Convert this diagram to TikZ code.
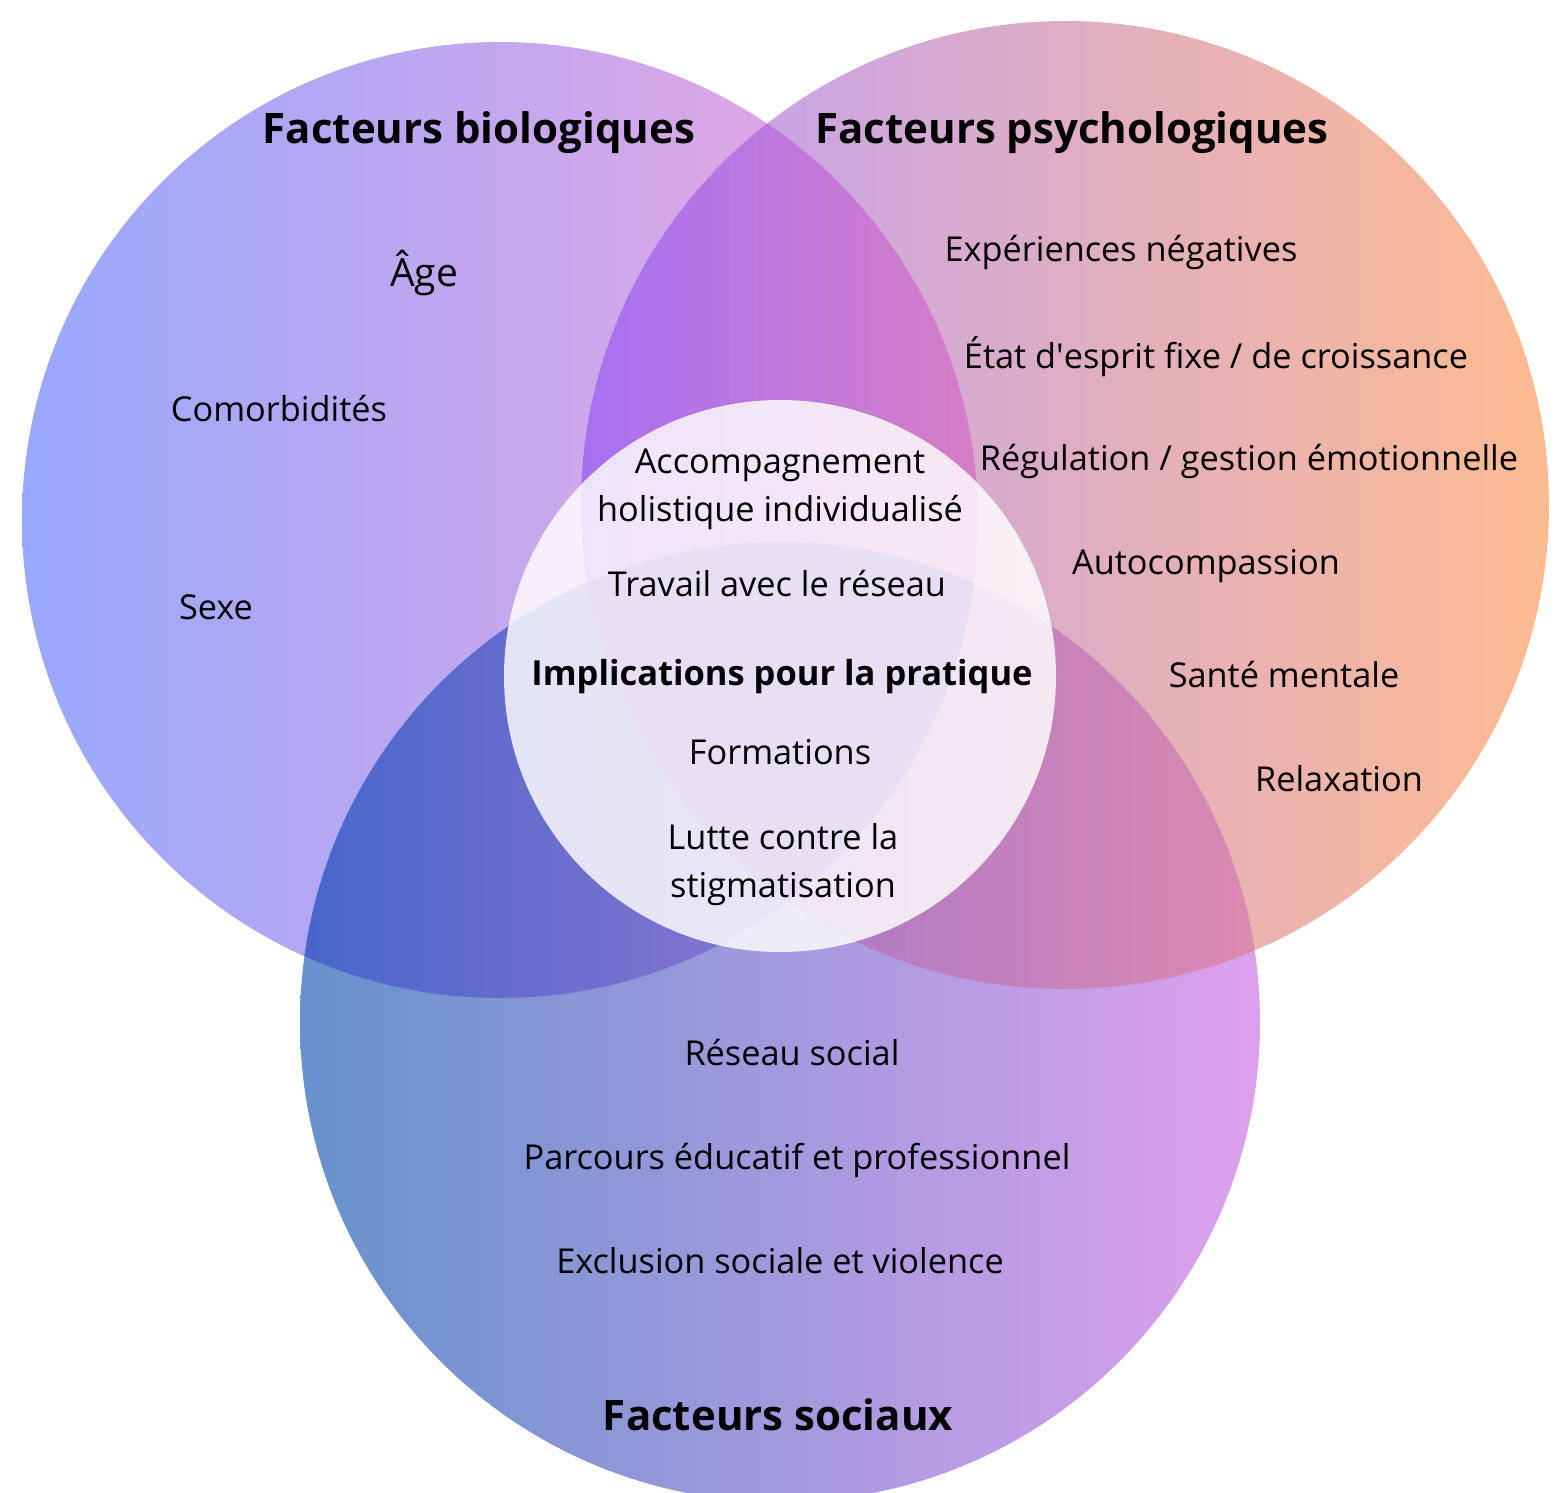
\documentclass[tikz,border=0pt]{standalone}
\usepackage{fontspec}
\setmainfont{Open Sans}
\usetikzlibrary{positioning}

\definecolor{bioL}{HTML}{98A8FC}
\definecolor{bioR}{HTML}{F0A6E0}
\definecolor{psyL}{HTML}{BD9FF7}
\definecolor{psyR}{HTML}{FEBB91}
\definecolor{socL}{HTML}{6692CC}
\definecolor{socR}{HTML}{DEA0EE}
\definecolor{bpL}{HTML}{A571F2}
\definecolor{bpR}{HTML}{D67DC6}
\definecolor{bsL}{HTML}{4866CC}
\definecolor{bsR}{HTML}{9A78D0}
\definecolor{psL}{HTML}{9470D4}
\definecolor{psR}{HTML}{DC8AAE}
\definecolor{bpsC}{HTML}{7A55C4}

\begin{document}
\begin{tikzpicture}
  [
    x=1pt, y=-1pt,
    heading/.style={font=\fontsize{42}{48}\selectfont\bfseries, inner sep=0pt},
    keynote/.style={font=\fontsize{34.5}{48}\selectfont\bfseries, inner sep=0pt},
    item/.style={font=\fontsize{34.3}{48}\selectfont, align=center, inner sep=0pt}
  ]
    \useasboundingbox (0,0) rectangle (1559,1493);
    % =========================================================================
    % CIRCLES
    % =========================================================================
    \coordinate (bio) at (500,520);
    \coordinate (psy) at (1065,505);
    \coordinate (soc) at (780,1022);
    \coordinate (core) at (780,676);

    \shade [left color=bioL, right color=bioR] (bio) circle [radius=478pt];
    \shade [left color=psyL, right color=psyR] (psy) circle [radius=484pt];
    \shade [left color=socL, right color=socR] (soc) circle [radius=480pt];
    % --- OVERLAPS ---
    \begin{scope}
      \clip (bio) circle [radius=478pt];
      \clip (psy) circle [radius=484pt];
      \shade [left color=bpL, right color=bpR] (580,0) rectangle (978,1493);
    \end{scope}
    \begin{scope}
      \clip (bio) circle [radius=478pt];
      \clip (soc) circle [radius=480pt];
      \shade [left color=bsL, right color=bsR] (300,0) rectangle (900,1493);
    \end{scope}
    \begin{scope}
      \clip (psy) circle [radius=484pt];
      \clip (soc) circle [radius=480pt];
      \shade [left color=psL, right color=psR] (580,0) rectangle (1260,1493);
    \end{scope}
    \begin{scope}
      \clip (bio) circle [radius=478pt];
      \clip (psy) circle [radius=484pt];
      \clip (soc) circle [radius=480pt];
      \fill [bpsC] (0,0) rectangle (1559,1493);
    \end{scope}
    \fill [white, opacity=0.82] (core) circle [radius=276pt];

    % =========================================================================
    % NODES
    % =========================================================================
    \node [heading] (biotitle) at (479,133) {Facteurs biologiques};
    \node [heading] (psytitle) at (1072,133) {Facteurs psychologiques};
    \node [heading] (soctitle) at (778,1415) {Facteurs sociaux};
    \node [keynote] (practice) at (782,677) {Implications pour la pratique};
    % --- BIOLOGICAL ---
    \node [item, font=\fontsize{39}{48}\selectfont] (age) at (424,273) {Âge};
    \node [item] (comorb) at (279,409) {Comorbidités};
    \node [item] (sexe) at (216,607) {Sexe};
    % --- PSYCHOLOGICAL ---
    \node [item] (neg) at (1121,252) {Expériences négatives};
    \node [item] (mindset) at (1216,357) {État d\textquotesingle esprit fixe / de croissance};
    \node [item] (regul) at (1249,461) {Régulation / gestion émotionnelle};
    \node [item] (autocomp) at (1206,566) {Autocompassion};
    \node [item] (sante) at (1284,675) {Santé mentale};
    \node [item] (relax) at (1339,779) {Relaxation};
    % --- SOCIAL ---
    \node [item] (reseau) at (792,1053) {Réseau social};
    \node [item] (parcours) at (797,1160) {Parcours éducatif et professionnel};
    \node [item] (exclusion) at (780,1261) {Exclusion sociale et violence};
    % --- PRACTICE ---
    \node [item] (accomp) at (780,489) {Accompagnement\\holistique individualisé};
    \node [item] (travail) at (777,584) {Travail avec le réseau};
    \node [item] (formations) at (780,752) {Formations};
    \node [item] (lutte) at (783,865) {Lutte contre la\\stigmatisation};

  \end{tikzpicture}
\end{document}
